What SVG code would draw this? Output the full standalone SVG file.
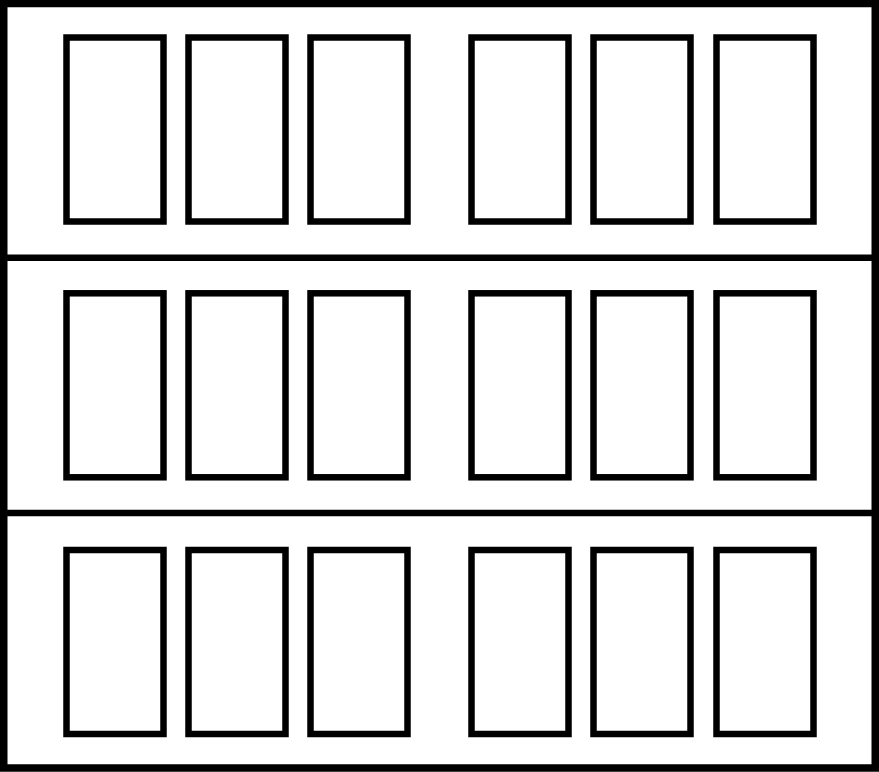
<svg xmlns="http://www.w3.org/2000/svg" width="879" height="772" viewBox="0 0 879 772">
<style>
.frame{fill:#fff;stroke:#000;stroke-width:7.5}
.div{stroke:#000;stroke-width:6.5}
.p{fill:#fff;stroke:#000;stroke-width:6.5}
</style>
<defs>
<g id="row">
<rect class="p" x="66.5" y="0" width="97" height="184"/>
<rect class="p" x="188.5" y="0" width="97" height="184"/>
<rect class="p" x="310.5" y="0" width="97" height="184"/>
<rect class="p" x="471.5" y="0" width="97" height="184"/>
<rect class="p" x="593.5" y="0" width="97" height="184"/>
<rect class="p" x="716.5" y="0" width="97" height="184"/>
</g>
</defs>
<rect class="frame" x="3.75" y="3.5" width="871.5" height="764.5"/>
<g id="dividers">
<line class="div" x1="0" y1="257.7" x2="879" y2="257.7"/>
<line class="div" x1="0" y1="513" x2="879" y2="513"/>
</g>
<g id="row1"><use href="#row" y="37.5"/></g>
<g id="row2"><use href="#row" y="293.3"/></g>
<g id="row3"><use href="#row" y="550"/></g>
</svg>
